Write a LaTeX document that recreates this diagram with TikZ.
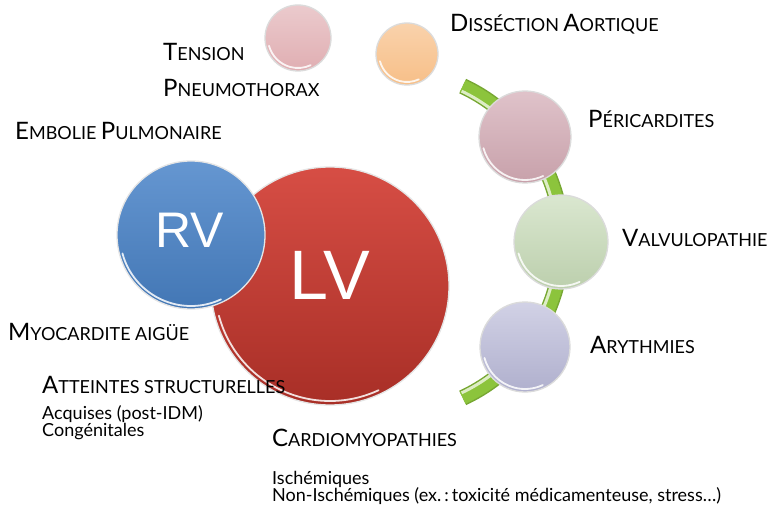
\documentclass[tikz,border=0pt]{standalone}
\usepackage{fontspec}
\setmainfont{Lato}
\newfontfamily\labelfont{Liberation Sans}
\usetikzlibrary{calc}

\definecolor{pinkA}{HTML}{E0AEB2}
\definecolor{peach}{HTML}{F7BF88}
\definecolor{mauve}{HTML}{D2A9B3}
\definecolor{sage}{HTML}{C6DAB6}
\definecolor{lilac}{HTML}{B9B9D8}
\definecolor{rvblue}{HTML}{4A84C9}
\definecolor{lvred}{HTML}{D23A30}
\definecolor{stem}{HTML}{8CC43C}

% small capitals built from two sizes
\newcommand\initcap[1]{{\fontsize{24}{26}\selectfont #1}}
\newcommand\restcap[1]{{\fontsize{18}{20}\selectfont #1}}
\newcommand\sct[2]{\initcap{#1}\restcap{#2}}
\newcommand\gap{\hspace{0.45em}}

\newcommand\gloss[2]{%
  \draw[white, line width=1.8pt, opacity=.85, line cap=round]
    ($(#1.center)+(195:#2)$) arc[start angle=195, end angle=295, radius=#2];}

\tikzset{
  ball/.style={circle, inner sep=0pt, minimum size=#1, draw=black!14, line width=1.3pt},
  caplabel/.style={anchor=base west, inner sep=0pt, text=black},
  body/.style={anchor=base west, inner sep=0pt, font=\fontsize{18}{20}\selectfont},
  chamber/.style={text=white, font=\labelfont},
}

\begin{document}
\begin{tikzpicture}[x=1pt, y=1pt]
\useasboundingbox[fill=white] (0,0) rectangle (768,528);

% green stem behind the right-hand column of balls
\coordinate (hub) at (390,286);
\draw[stem!85!black, line width=16pt] ([shift={(hub)}]-65:172) arc[start angle=-65, end angle=65, radius=172pt];
\draw[stem, line width=13pt] ([shift={(hub)}]-65:172) arc[start angle=-65, end angle=65, radius=172pt];
\draw[stem!30!white, line width=3pt] ([shift={(hub)}]-64.6:167) arc[start angle=-64.6, end angle=64.6, radius=167pt];

% ventricles
\node[ball=238pt, draw=black!10, top color=lvred!90!white, bottom color=lvred!80!black] (lv) at (330,242) {};
\gloss{lv}{115pt}
\node[ball=148pt, draw=black!10, top color=rvblue!85!white, bottom color=rvblue!90!black] (rv) at (191,293) {};
\gloss{rv}{71pt}
\node[chamber, font=\labelfont\fontsize{50}{50}\selectfont] (rvt) at (190,298) {RV};
\node[chamber, font=\labelfont\fontsize{70}{70}\selectfont] (lvt) at (330,253) {LV};

% small balls
\node[ball=66pt, top color=pinkA!65!white, bottom color=pinkA] (tension) at (298,490) {};
\gloss{tension}{30pt}
\node[ball=62pt, top color=peach!70!white, bottom color=peach] (aorta) at (407,474) {};
\gloss{aorta}{28pt}
\node[ball=92pt, top color=mauve!70!white, bottom color=mauve!95!black] (peri) at (525,391) {};
\gloss{peri}{43pt}
\node[ball=94pt, top color=sage!65!white, bottom color=sage!95!black] (valv) at (561,286) {};
\gloss{valv}{44pt}
\node[ball=90pt, top color=lilac!65!white, bottom color=lilac!95!black] (ary) at (525,181) {};
\gloss{ary}{42pt}

% labels
\node[caplabel] (tdis) at (450,496) {\sct{D}{ISSÉCTION}\gap\sct{A}{ORTIQUE}};
\node[caplabel] (tperi) at (588,400) {\sct{P}{ÉRICARDITES}};
\node[caplabel] (tvalv) at (622,281) {\sct{V}{ALVULOPATHIE}};
\node[caplabel] (tary) at (590,175) {\sct{A}{RYTHMIES}};
\node[caplabel] (tten) at (163,467) {\sct{T}{ENSION}};
\node[caplabel] (tpneu) at (163,431) {\sct{P}{NEUMOTHORAX}};
\node[caplabel] (temb) at (15,388) {\sct{E}{MBOLIE}\gap\sct{P}{ULMONAIRE}};
\node[caplabel] (tmyo) at (8,188) {\sct{M}{YOCARDITE}\gap\restcap{AIGÜE}};
\node[caplabel] (tatt) at (42,135) {\sct{A}{TTEINTES}\gap\restcap{STRUCTURELLES}};
\node[body] (tacq) at (42,109) {Acquises (post-IDM)};
\node[body] (tcong) at (42,92) {Congénitales};
\node[caplabel] (tcar) at (272,82) {\sct{C}{ARDIOMYOPATHIES}};
\node[body] (tisc) at (272,44) {Ischémiques};
\node[body] (tnon) at (272,27) {Non-Ischémiques (ex.\,:\,toxicité médicamenteuse, stress…)};
\end{tikzpicture}
\end{document}
